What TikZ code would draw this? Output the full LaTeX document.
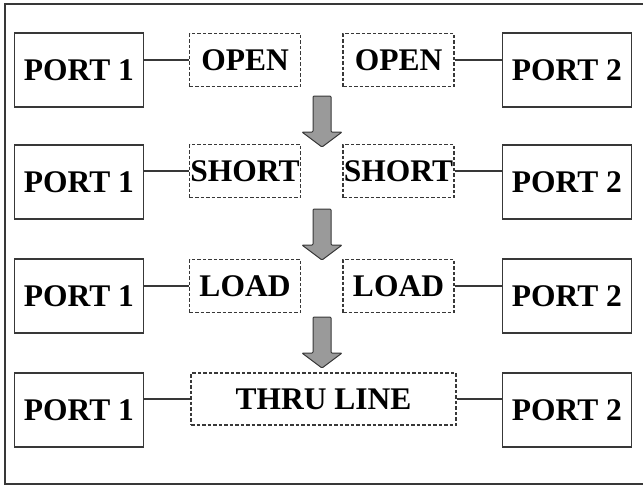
\documentclass[tikz,border=0pt]{standalone}
\usepackage{fontspec}
\setmainfont{Liberation Serif}
\begin{document}
\begin{tikzpicture}[x=1pt,y=-1pt,
  txt/.style={font=\fontsize{31.5}{34}\selectfont\bfseries, text=black, inner sep=0pt},
  portbox/.style={txt, draw=linegray, line width=1.4pt, minimum width=129pt, minimum height=74pt},
  stdbox/.style={txt, draw=linegray, line width=1.5pt, dash pattern=on 3.5pt off 2pt, minimum width=111pt, minimum height=53pt},
  wire/.style={draw=linegray, line width=1.3pt},
  dnarrow/.pic={
    \filldraw[fill=arrowgray, draw=linegray, line width=1pt, rounded corners=1pt]
      (-9,0) -- (9,0) -- (9,36) -- (20,36) -- (0,51) -- (-20,36) -- (-9,36) -- cycle;
  }]
\definecolor{linegray}{HTML}{383838}
\definecolor{arrowgray}{HTML}{9A9A9A}
\useasboundingbox (0,0) rectangle (643,488);
% outer frame
\draw[linegray, line width=2pt] (700,4) -- (5,4) -- (5,484) -- (700,484);

% row 1: open standard
\node[portbox] (p1a) at (79,70) {PORT 1};
\node[stdbox] (l1) at (245,60) {OPEN};
\node[stdbox] (r1) at (398.5,60) {OPEN};
\node[portbox] (p2a) at (567,70) {PORT 2};
% row 2: short standard
\node[portbox] (p1b) at (79,182) {PORT 1};
\node[stdbox] (l2) at (245,171) {SHORT};
\node[stdbox] (r2) at (398.5,171) {SHORT};
\node[portbox] (p2b) at (567,182) {PORT 2};
% row 3: load standard
\node[portbox] (p1c) at (79,296) {PORT 1};
\node[stdbox] (l3) at (245,286) {LOAD};
\node[stdbox] (r3) at (398.5,286) {LOAD};
\node[portbox] (p2c) at (567,296) {PORT 2};
% row 4: thru line
\node[portbox] (p1d) at (79,410) {PORT 1};
\node[stdbox, minimum width=265pt, minimum height=52pt] (th) at (323.5,399) {THRU LINE};
\node[portbox] (p2d) at (567,410) {PORT 2};

% port-to-standard wiring
\foreach \p/\s in {p1a/l1, p1b/l2, p1c/l3, p1d/th}
  \draw[wire] (\p.east |- \s.west) -- (\s.west);
\foreach \p/\s in {p2a/r1, p2b/r2, p2c/r3, p2d/th}
  \draw[wire] (\s.east) -- (\p.west |- \s.east);

% sequence arrows between steps
\pic at (322,96) {dnarrow};
\pic at (322,209) {dnarrow};
\pic at (322,317) {dnarrow};
\end{tikzpicture}
\end{document}
